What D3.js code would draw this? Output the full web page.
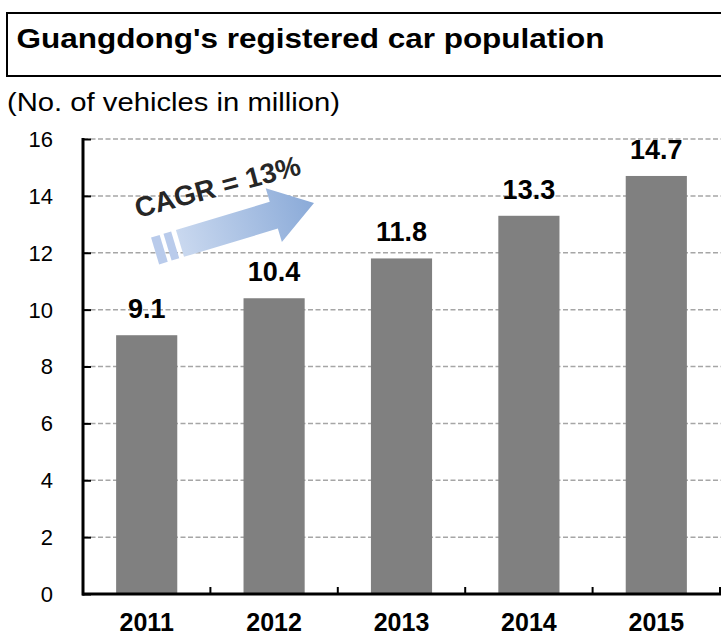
<!DOCTYPE html>
<html>
<head>
<meta charset="utf-8">
<script src="https://cdn.jsdelivr.net/npm/d3@7"></script>
<style>
  html, body { margin: 0; padding: 0; background: #fff; }
  svg { display: block; font-family: "Liberation Sans", Arial, sans-serif; }
</style>
</head>
<body>
<svg id="chart" width="721" height="637"></svg>
<script>
const years = ["2011", "2012", "2013", "2014", "2015"];
const values = [9.1, 10.4, 11.8, 13.3, 14.7];
const valueLabels = ["9.1", "10.4", "11.8", "13.3", "14.7"];
const yTicks = [0, 2, 4, 6, 8, 10, 12, 14, 16];
const titleText = "Guangdong's registered car population";
const unitText = "(No. of vehicles in million)";
const cagrText = "CAGR = 13%";

const svg = d3.select("#chart");

// Title box
svg.append("rect")
  .attr("x", 7).attr("y", 13)
  .attr("width", 730).attr("height", 63)
  .attr("fill", "none").attr("stroke", "#000").attr("stroke-width", 2);
svg.append("text")
  .attr("x", 16.5).attr("y", 47.5)
  .attr("font-size", 27).attr("font-weight", "bold").attr("fill", "#000")
  .attr("textLength", 588).attr("lengthAdjust", "spacingAndGlyphs")
  .text(titleText);

svg.append("text")
  .attr("x", 7).attr("y", 111)
  .attr("font-size", 26).attr("fill", "#000")
  .attr("textLength", 333).attr("lengthAdjust", "spacingAndGlyphs")
  .text(unitText);

const x = d3.scaleBand().domain(years).range([83, 720]).padding(0);
const y = d3.scaleLinear().domain([0, 16]).range([594, 139]);
const barFrac = 0.48;

// gridlines
svg.append("g").selectAll("line")
  .data(yTicks.filter(d => d > 0))
  .join("line")
  .attr("x1", 83).attr("x2", 721)
  .attr("y1", d => y(d)).attr("y2", d => y(d))
  .attr("stroke", "#a6a6a6").attr("stroke-width", 1.5)
  .attr("stroke-dasharray", "5,2.5");

// bars
svg.append("g").selectAll("rect")
  .data(years)
  .join("rect")
  .attr("x", (d) => x(d) + x.bandwidth() * (1 - barFrac) / 2)
  .attr("width", x.bandwidth() * barFrac)
  .attr("y", (d, i) => y(values[i]))
  .attr("height", (d, i) => y(0) - y(values[i]))
  .attr("fill", "#808080");

// value labels
svg.append("g").selectAll("text")
  .data(years)
  .join("text")
  .attr("x", d => x(d) + x.bandwidth() / 2)
  .attr("y", (d, i) => y(values[i]) - 17)
  .attr("text-anchor", "middle")
  .attr("font-size", 27).attr("font-weight", "bold").attr("fill", "#000")
  .text((d, i) => valueLabels[i]);

// Y axis
const yAxis = d3.axisRight(y).tickValues(yTicks).tickSize(8).tickFormat("");
const gy = svg.append("g").attr("transform", "translate(83,0)").call(yAxis);
gy.select(".domain").remove();
gy.selectAll(".tick line").attr("stroke", "#000").attr("stroke-width", 2);
svg.append("line").attr("x1", 83).attr("x2", 83).attr("y1", y(16) - 1).attr("y2", y(0) + 1.5)
  .attr("stroke", "#000").attr("stroke-width", 3);
svg.append("g").selectAll("text")
  .data(yTicks)
  .join("text")
  .attr("x", 53).attr("y", d => y(d))
  .attr("dy", "0.36em")
  .attr("text-anchor", "end")
  .attr("font-size", 22).attr("fill", "#000")
  .text(d => d);

// X axis
const xTickPos = years.map(d => x(d) + x.bandwidth());
svg.append("g").selectAll("line")
  .data(xTickPos)
  .join("line")
  .attr("x1", d => d).attr("x2", d => d)
  .attr("y1", y(0)).attr("y2", y(0) - 7)
  .attr("stroke", "#000").attr("stroke-width", 2);
svg.append("line").attr("x1", 82).attr("x2", 721).attr("y1", y(0)).attr("y2", y(0))
  .attr("stroke", "#000").attr("stroke-width", 3);
svg.append("g").selectAll("text")
  .data(years)
  .join("text")
  .attr("x", d => x(d) + x.bandwidth() / 2)
  .attr("y", 631)
  .attr("text-anchor", "middle")
  .attr("font-size", 25).attr("font-weight", "bold").attr("fill", "#000")
  .text(d => d);

// CAGR arrow
const defs = svg.append("defs");
const grad = defs.append("linearGradient").attr("id", "arrowGrad")
  .attr("x1", "0%").attr("x2", "100%").attr("y1", "0%").attr("y2", "0%");
grad.append("stop").attr("offset", "0%").attr("stop-color", "#c9d8ef");
grad.append("stop").attr("offset", "100%").attr("stop-color", "#8aaad8");

const ag = svg.append("g").attr("transform", "translate(314,203) rotate(-16.8)");
ag.append("path")
  .attr("d", "M-140,-14 L-42,-14 L-42,-28 L0,0 L-42,28 L-42,14 L-140,14 Z")
  .attr("fill", "url(#arrowGrad)");
ag.append("path")
  .attr("d", "M-153,-14 L-145,-14 L-145,14 L-153,14 Z")
  .attr("fill", "#b9cbeb");
ag.append("path")
  .attr("d", "M-166,-14 L-157,-14 L-157,14 L-166,14 Z")
  .attr("fill", "#b9cbeb");

svg.append("text")
  .attr("transform", "translate(220,196) rotate(-15)")
  .attr("text-anchor", "middle")
  .attr("font-size", 28).attr("font-weight", "bold").attr("fill", "#262626")
  .text(cagrText);
</script>
</body>
</html>
